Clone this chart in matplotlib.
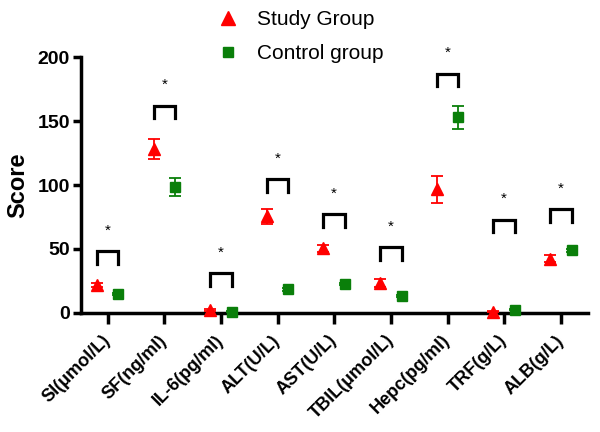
import numpy as np
import matplotlib
matplotlib.use('Agg')
import matplotlib.pyplot as plt
from matplotlib.lines import Line2D

plt.rcParams['font.family'] = ['Liberation Sans', 'DejaVu Sans']

# ---- data ------------------------------------------------------------------
labels = ['SI(μmol/L)', 'SF(ng/ml)', 'IL-6(pg/ml)', 'ALT(U/L)', 'AST(U/L)',
          'TBIL(μmol/L)', 'Hepc(pg/ml)', 'TRF(g/L)', 'ALB(g/L)']
study = [22, 128, 2.3, 75.5, 50.5, 23.5, 96.5, 1.0, 42.5]
study_err = [1.5, 8, 0.5, 6, 3, 3, 10.5, 0.5, 3]
control = [15, 98.5, 1.0, 18.5, 22.7, 13.3, 153, 2.7, 49]
control_err = [1, 7, 0.3, 1, 1, 1, 9, 0.3, 1]
bracket_top = [48.5, 162, 31, 104.5, 77, 51.5, 187, 73, 81]

RED, GREEN = '#ff0000', '#0a7f0a'
off = 0.19

fig = plt.figure(figsize=(6.0, 4.32), dpi=100)
ax = fig.add_axes([0.135, 0.2755, 0.845, 0.5925])
x = np.arange(len(labels))

ax.errorbar(x - off, study, yerr=study_err, fmt='^', ms=9, color=RED,
            ecolor=RED, elinewidth=1.3, capsize=4, capthick=1.3, clip_on=False, zorder=4)
ax.errorbar(x + off, control, yerr=control_err, fmt='s', ms=7.5, color=GREEN,
            ecolor=GREEN, elinewidth=1.3, capsize=4, capthick=1.3, clip_on=False, zorder=4)

# significance brackets
for xi, top in zip(x, bracket_top):
    ax.plot([xi - off, xi - off, xi + off, xi + off], [top - 10, top, top, top - 10],
            color='black', lw=2.3, solid_joinstyle='miter', clip_on=False)
    ax.text(xi, top + 16, '*', ha='center', va='center', fontsize=11, clip_on=False)

ax.set_xlim(-0.47, 8.48)
ax.set_ylim(0, 200)
ax.set_yticks([0, 50, 100, 150, 200])
ax.set_xticks(x)
ax.set_xticklabels(labels, rotation=45, ha='right', va='center', rotation_mode='anchor',
                   fontsize=13, fontweight='bold')
for t in ax.get_yticklabels():
    t.set_fontsize(14); t.set_fontweight('bold')
ax.set_ylabel('Score', fontsize=17, fontweight='bold', labelpad=6)

for s in ['top', 'right']:
    ax.spines[s].set_visible(False)
for s in ['left', 'bottom']:
    ax.spines[s].set_linewidth(2.5)
ax.tick_params(axis='x', length=8, width=2.5, pad=10)
ax.tick_params(axis='y', length=6, width=2.5, pad=2)

handles = [Line2D([], [], marker='^', color=RED, ls='none', ms=10, label='Study Group'),
           Line2D([], [], marker='s', color=GREEN, ls='none', ms=7, label='Control group')]
fig.legend(handles=handles, loc='upper left', bbox_to_anchor=(0.362, 0.976),
           frameon=False, fontsize=15, handlelength=1.0, handletextpad=0.9,
           labelspacing=0.7, borderpad=0, borderaxespad=0)

fig.savefig('out.png', dpi=100)
